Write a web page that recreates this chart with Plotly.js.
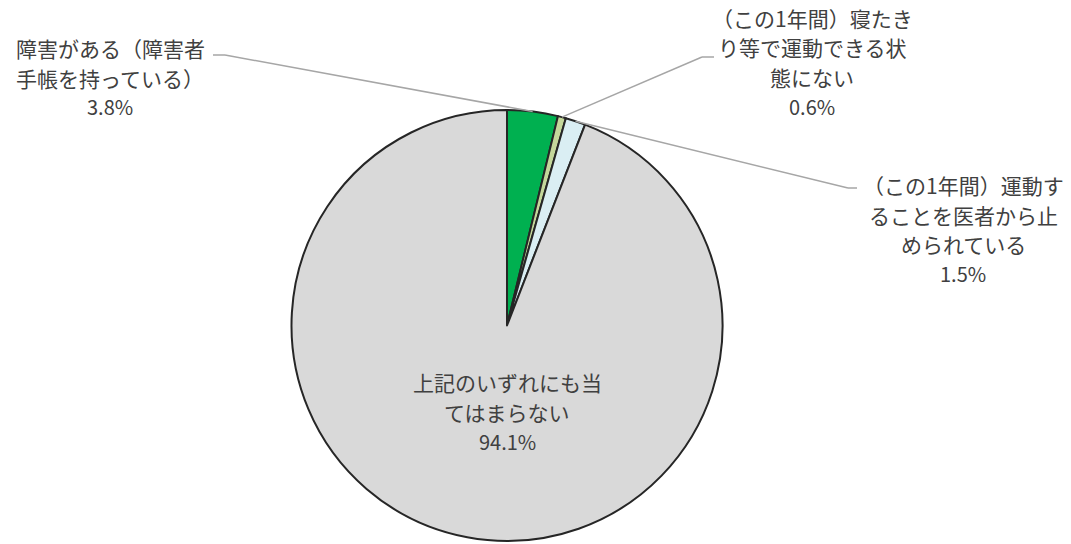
<!DOCTYPE html>
<html><head><meta charset="utf-8">
<script src="https://cdn.plot.ly/plotly-3.0.1.min.js"></script>
<style>html,body{margin:0;padding:0;background:#fff}#chart{width:1071px;height:544px}</style>
</head><body><div id="chart"></div>
<script>
// ---- data ----
const categories = [
  "障害がある（障害者手帳を持っている）",
  "（この1年間）寝たきり等で運動できる状態にない",
  "（この1年間）運動することを医者から止められている",
  "上記のいずれにも当てはまらない"
];
const labelLines = [
  ["障害がある（障害者", "手帳を持っている）"],
  ["（この1年間）寝たき", "り等で運動できる状", "態にない"],
  ["（この1年間）運動す", "ることを医者から止", "められている"],
  ["上記のいずれにも当", "てはまらない"]
];
const values = [3.8, 0.6, 1.5, 94.1];
const valueLabels = ["3.8%", "0.6%", "1.5%", "94.1%"];
const colors = ["#00B050", "#C4D79B", "#DAEEF3", "#D9D9D9"];

// ---- layout constants (pixels) ----
const W = 1071, H = 544;
const cx = 507, cy = 325.5, R = 215.5;
const labelPos = [   // center x, first line y
  [110, 48], [812, 18], [963, 185], [507, 382]
];
const lineGap = 29.5;
const elbows = [ // elbow point and end of horizontal tick
  [[225, 55], [213, 55]],
  [[702, 57], [714, 57]],
  [[848, 188], [857, 188]],
  null
];
const px = x => x / W, py = y => 1 - y / H;

const trace = {
  type: "pie",
  values: values,
  labels: categories,
  sort: false,
  direction: "clockwise",
  rotation: 0,
  textinfo: "none",
  hoverinfo: "label+percent",
  marker: { colors: colors, line: { color: "#262626", width: 2 } },
  domain: { x: [(cx - R) / W, (cx + R) / W], y: [1 - (cy + R) / H, 1 - (cy - R) / H] },
  showlegend: false
};

const annotations = [];
const shapes = [];
const font = { family: "Noto Sans CJK JP, sans-serif", size: 21, color: "#404040" };
const total = values.reduce((a, b) => a + b, 0);
let cum = 0;
values.forEach((v, i) => {
  const mid = (cum + v / 2) / total * 2 * Math.PI;
  cum += v;
  const lines = labelLines[i].concat([valueLabels[i]]);
  lines.forEach((t, k) => {
    annotations.push({
      xref: "paper", yref: "paper",
      x: px(labelPos[i][0]), y: py(labelPos[i][1] + k * lineGap),
      xanchor: "center", yanchor: "middle",
      text: t, showarrow: false,
      font: Object.assign({}, font, k === lines.length - 1 ? { size: 20 } : {})
    });
  });
  if (elbows[i]) {
    const ax = cx + R * Math.sin(mid), ay = cy - R * Math.cos(mid);
    const e = elbows[i];
    shapes.push({ type: "line", xref: "paper", yref: "paper",
      x0: px(ax), y0: py(ay), x1: px(e[0][0]), y1: py(e[0][1]),
      line: { color: "#A6A6A6", width: 1.5 } });
    shapes.push({ type: "line", xref: "paper", yref: "paper",
      x0: px(e[0][0]), y0: py(e[0][1]), x1: px(e[1][0]), y1: py(e[1][1]),
      line: { color: "#A6A6A6", width: 1.5 } });
  }
});

const layout = {
  width: W, height: H,
  margin: { l: 0, r: 0, t: 0, b: 0 },
  paper_bgcolor: "#fff", plot_bgcolor: "#fff",
  annotations: annotations, shapes: shapes,
  font: font
};
Plotly.newPlot("chart", [trace], layout, { displayModeBar: false, staticPlot: true });
</script></body></html>
